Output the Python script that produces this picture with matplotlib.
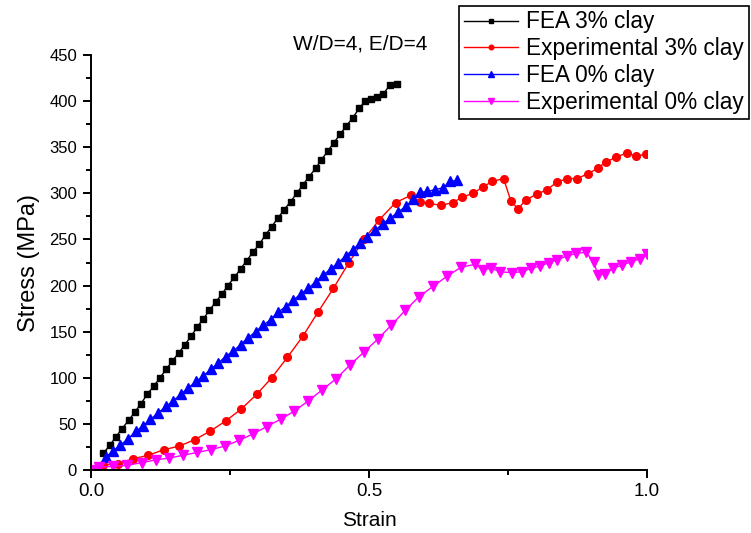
import matplotlib
matplotlib.use("Agg")
import matplotlib.pyplot as plt
from matplotlib.ticker import MultipleLocator

# --- DATOS ---
strain_fea3 = [0.022, 0.034, 0.045, 0.056, 0.068, 0.079, 0.090, 0.101, 0.113, 0.124,
               0.135, 0.146, 0.158, 0.169, 0.180, 0.191, 0.202, 0.213, 0.224, 0.236,
               0.246, 0.258, 0.269, 0.280, 0.291, 0.303, 0.314, 0.325, 0.336, 0.347,
               0.359, 0.370, 0.381, 0.392, 0.404, 0.414, 0.426, 0.437, 0.448, 0.459,
               0.471, 0.482, 0.493, 0.504, 0.514, 0.526, 0.537, 0.550]
stress_fea3 = [18, 27, 36, 45, 54, 63, 72, 82, 91, 100,
               109, 118, 127, 136, 145, 155, 164, 173, 182, 191,
               200, 209, 218, 227, 236, 245, 255, 264, 273, 282,
               291, 300, 309, 318, 327, 336, 346, 355, 364, 373,
               382, 392, 400, 402, 404, 408, 417, 419]

strain_exp3 = [0.0, 0.021, 0.048, 0.075, 0.103, 0.131, 0.159, 0.187, 0.214, 0.242,
               0.270, 0.298, 0.325, 0.353, 0.381, 0.408, 0.436, 0.464, 0.491, 0.518,
               0.548, 0.576, 0.591, 0.608, 0.630, 0.651, 0.668, 0.687, 0.705, 0.722,
               0.742, 0.755, 0.768, 0.782, 0.802, 0.820, 0.838, 0.856, 0.874, 0.893,
               0.911, 0.926, 0.944, 0.964, 0.981, 0.999]
stress_exp3 = [0, 5, 7, 12, 16, 22, 26, 33, 42, 53,
               66, 82, 100, 122, 145, 171, 197, 225, 250, 271,
               290, 298, 291, 289, 287, 290, 296, 300, 307, 313,
               316, 292, 283, 293, 299, 304, 312, 316, 316, 321,
               327, 334, 339, 344, 340, 343]

strain_fea0 = [0.027, 0.040, 0.053, 0.067, 0.081, 0.094, 0.107, 0.121, 0.135, 0.148,
               0.161, 0.175, 0.189, 0.202, 0.215, 0.229, 0.242, 0.256, 0.269, 0.282,
               0.296, 0.310, 0.323, 0.336, 0.350, 0.364, 0.377, 0.391, 0.404, 0.417,
               0.431, 0.445, 0.458, 0.471, 0.484, 0.497, 0.511, 0.525, 0.538, 0.553,
               0.567, 0.580, 0.592, 0.605, 0.619, 0.633, 0.646, 0.659]
stress_fea0 = [14, 21, 27, 34, 42, 48, 55, 62, 69, 75,
               82, 89, 96, 102, 109, 116, 123, 129, 136, 143,
               150, 157, 163, 171, 177, 184, 191, 197, 204, 211,
               218, 225, 232, 239, 246, 253, 260, 267, 273, 280,
               286, 294, 301, 302, 304, 306, 313, 314]

strain_exp0 = [0.0, 0.015, 0.040, 0.065, 0.091, 0.117, 0.141, 0.166, 0.190, 0.215,
               0.241, 0.266, 0.291, 0.316, 0.341, 0.366, 0.391, 0.416, 0.441, 0.466,
               0.491, 0.516, 0.540, 0.565, 0.590, 0.615, 0.640, 0.666, 0.691, 0.705,
               0.719, 0.735, 0.757, 0.776, 0.792, 0.808, 0.824, 0.839, 0.856, 0.873,
               0.890, 0.904, 0.912, 0.925, 0.939, 0.955, 0.972, 0.988, 1.0]
stress_exp0 = [0, 3, 4, 5, 8, 11, 13, 16, 19, 22,
               26, 32, 39, 47, 55, 64, 75, 87, 99, 114,
               128, 142, 157, 173, 188, 199, 210, 220, 223, 217,
               219, 215, 214, 215, 219, 221, 225, 228, 232, 235,
               236, 226, 211, 213, 219, 222, 226, 229, 234]

labels = ["FEA 3% clay", "Experimental 3% clay", "FEA 0% clay", "Experimental 0% clay"]

plt.rcParams['font.family'] = ['Liberation Sans', 'DejaVu Sans']

fig = plt.figure(figsize=(7.51, 5.33), dpi=100)
ax = fig.add_axes([91 / 751, 63 / 533, 556 / 751, 415 / 533])

ax.plot(strain_fea3, stress_fea3, color='black', lw=1.0, marker='s', ms=5, label=labels[0])
ax.plot(strain_exp3, stress_exp3, color='#ff0000', lw=1.0, marker='o', ms=5.5, label=labels[1])
ax.plot(strain_fea0, stress_fea0, color='#0000ff', lw=1.0, marker='^', ms=6.5, label=labels[2])
ax.plot(strain_exp0, stress_exp0, color='#ff00ff', lw=1.0, marker='v', ms=6.5, label=labels[3])

ax.set_xlim(0, 1.0)
ax.set_ylim(0, 450)
ax.spines['top'].set_visible(False)
ax.spines['right'].set_visible(False)
for s in ('left', 'bottom'):
    ax.spines[s].set_linewidth(1.4)

ax.xaxis.set_major_locator(MultipleLocator(0.5))
ax.xaxis.set_minor_locator(MultipleLocator(0.25))
ax.yaxis.set_major_locator(MultipleLocator(50))
ax.yaxis.set_minor_locator(MultipleLocator(25))
ax.set_xticks([0, 0.5, 1.0])
ax.set_xticklabels(["0.0", "0.5", "1.0"])
ax.tick_params(which='major', direction='out', length=6, width=1.4)
ax.tick_params(which='minor', direction='out', length=3.3, width=1.4)
ax.tick_params(axis='x', labelsize=13.5, pad=3)
ax.tick_params(axis='y', labelsize=12, pad=4)

ax.set_xlabel("Strain", fontsize=15, labelpad=8)
ax.set_ylabel("Stress (MPa)", fontsize=17, labelpad=7)

fig.text(0.479, 0.917, "W/D=4, E/D=4", fontsize=15, ha='center', va='center')

# la leyenda se sale por la derecha como en el original
leg = fig.legend(loc='upper left', bbox_to_anchor=(459 / 751, 1 - 5.5 / 533),
                 borderaxespad=0, fontsize=16.3, frameon=True, fancybox=False,
                 framealpha=1, edgecolor='black', handlelength=2.4,
                 handletextpad=0.35, labelspacing=0.17, borderpad=0.22,
                 markerscale=0.6)
leg.get_frame().set_linewidth(1.2)

fig.savefig("out.png", dpi=100)
plt.close(fig)
